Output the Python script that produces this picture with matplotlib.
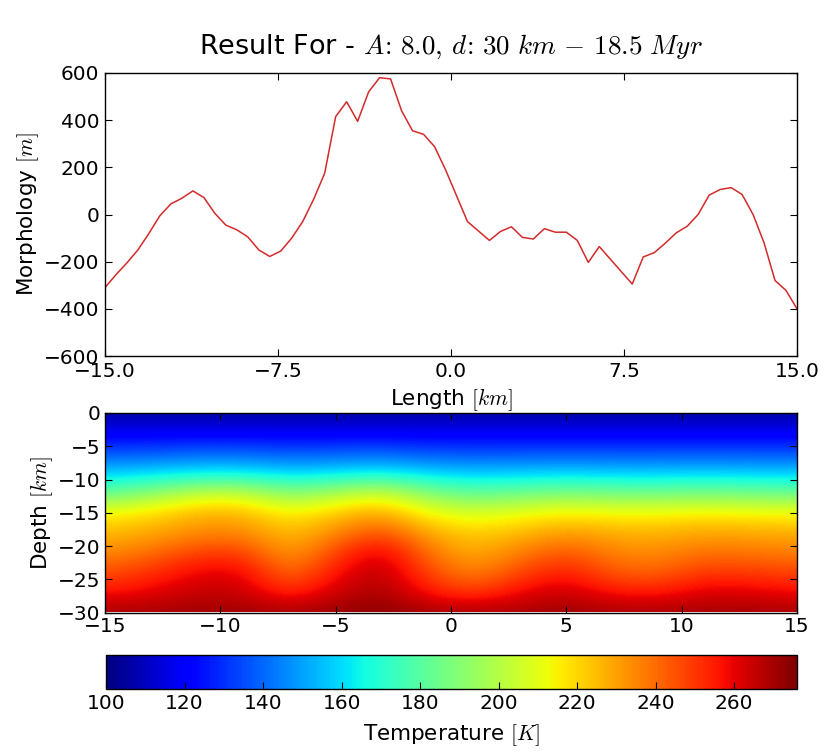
import numpy as np
import matplotlib
matplotlib.use("Agg")
import matplotlib.pyplot as plt

# ---------------- data ----------------
length_km = np.linspace(-15, 15, 64)
morphology_m = [
    -310, -255, -205, -150, -80, -5, 45, 69, 100, 72,
    5, -45, -65, -95, -150, -178, -155, -100, -30, 65,
    175, 415, 478, 395, 520, 580, 575, 440, 355, 340,
    288, 190, 80, -30, -70, -110, -72, -52, -97, -104,
    -60, -75, -75, -110, -203, -136, -189, -242, -295, -180,
    -162, -122, -78, -50, 0, 82, 106, 114, 85, 0,
    -120, -280, -322, -400,
]

temp_x = [-15, -13, -11, -9, -7, -5, -3, -1, 1, 3, 5, 7, 9, 11, 13, 15]
temp_depth = [0, -3, -6, -9, -12, -15, -18, -21, -24, -27, -30]
temperature = [
    [105, 105, 105, 105, 105, 105, 105, 105, 105, 105, 105, 105, 105, 105, 105, 105],
    [118, 118, 118, 118, 118, 118, 118, 118, 118, 118, 118, 118, 118, 118, 118, 118],
    [135, 136, 138, 138, 136, 137, 138, 135, 135, 135, 135, 135, 135, 135, 135, 135],
    [156, 158, 161, 161, 157, 159, 162, 157, 155, 156, 157, 156, 156, 157, 156, 156],
    [181, 190, 202, 203, 188, 197, 206, 188, 181, 184, 187, 185, 184, 186, 184, 183],
    [213, 218, 226, 226, 213, 222, 229, 212, 206, 211, 215, 213, 213, 215, 213, 213],
    [225, 228, 234, 235, 223, 234, 246, 228, 221, 225, 231, 227, 226, 229, 228, 227],
    [234, 239, 248, 249, 229, 247, 264, 238, 227, 236, 245, 235, 234, 239, 238, 236],
    [245, 251, 260, 261, 237, 257, 268, 247, 234, 247, 256, 243, 241, 250, 249, 247],
    [256, 260, 265, 265, 251, 264, 270, 256, 248, 259, 265, 256, 255, 262, 261, 258],
    [270, 270, 271, 271, 270, 272, 274, 270, 270, 270, 271, 270, 270, 270, 270, 270],
]
temp_min, temp_max = 100, 276
cbar_ticks = [100, 120, 140, 160, 180, 200, 220, 240, 260]

# ---------------- style ----------------
plt.rcParams['font.family'] = ['DejaVu Sans']
plt.rcParams['mathtext.fontset'] = 'cm'
plt.rcParams['xtick.direction'] = 'in'
plt.rcParams['ytick.direction'] = 'in'
plt.rcParams['xtick.top'] = True
plt.rcParams['ytick.right'] = True
plt.rcParams['xtick.major.size'] = 5
plt.rcParams['ytick.major.size'] = 5
plt.rcParams['axes.linewidth'] = 1.0

W, H = 825, 754
fig = plt.figure(figsize=(W / 100, H / 100), dpi=100, facecolor='white')

def rect(l, t, r, b):
    return [l / W, 1 - b / H, (r - l) / W, (b - t) / H]

tick_fs = 14.5
label_fs = 15.5

# ---------------- top: morphology ----------------
ax1 = fig.add_axes(rect(105, 73, 797, 356))
ax1.plot(length_km, morphology_m, color='#d42a2a', lw=1.1)
ax1.set_xlim(-15, 15)
ax1.set_ylim(-600, 600)
ax1.set_xticks([-15, -7.5, 0, 7.5, 15])
ax1.set_yticks([-600, -400, -200, 0, 200, 400, 600])
ax1.tick_params(labelsize=tick_fs, pad=4)
ax1.set_xlabel(r'Length $[km]$', fontsize=label_fs, labelpad=4)
ax1.set_ylabel(r'Morphology $[m]$', fontsize=label_fs, labelpad=2)
ax1.set_title(r'Result For - $A\!:\, 8.0,\, d\!:\, 30\ \mathit{km}\, -\, 18.5\ Myr$',
              fontsize=19.5, pad=14)

# ---------------- middle: temperature field ----------------
ax2 = fig.add_axes(rect(105, 413, 797, 612.5))
T = np.array(temperature, dtype=float)
dx = temp_x[1] - temp_x[0]
dz = temp_depth[0] - temp_depth[1]
im = ax2.imshow(T, cmap='jet', vmin=temp_min, vmax=temp_max, aspect='auto',
                interpolation='bicubic', origin='upper',
                extent=[temp_x[0] - dx / 2, temp_x[-1] + dx / 2,
                        temp_depth[-1] - dz / 2, temp_depth[0] + dz / 2])
ax2.set_xlim(-15, 15)
ax2.set_ylim(-30, 0)
ax2.set_xticks([-15, -10, -5, 0, 5, 10, 15])
ax2.set_yticks([0, -5, -10, -15, -20, -25, -30])
ax2.tick_params(labelsize=tick_fs, pad=3)
ax2.set_ylabel(r'Depth $[km]$', fontsize=label_fs, labelpad=2)

# ---------------- colorbar ----------------
cax = fig.add_axes(rect(106, 655, 797, 689))
cb = fig.colorbar(im, cax=cax, orientation='horizontal', ticks=cbar_ticks)
cb.ax.tick_params(labelsize=tick_fs, direction='in', top=False, length=5)
cb.set_label(r'Temperature $[K]$', fontsize=label_fs, labelpad=7)

fig.savefig('out.png', dpi=100, facecolor='white')
